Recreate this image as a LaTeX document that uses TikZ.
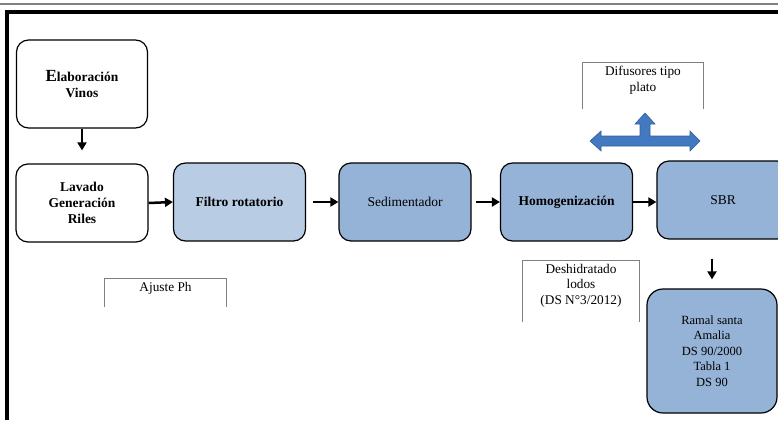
\documentclass[tikz,border=0pt]{standalone}
\usepackage{fontspec}
\setmainfont{Liberation Serif}
\usetikzlibrary{arrows.meta}
\definecolor{paleblue}{RGB}{184,204,228}
\definecolor{midblue}{RGB}{149,179,215}
\definecolor{arrowblue}{RGB}{66,121,192}
\tikzset{
  stage/.style      = {shape=rectangle, rounded corners=12pt,
                       draw, line width=1.2pt, fill=white,
                       minimum width=132pt, minimum height=78pt,
                       align=center, font=\fontsize{13.5}{16}\selectfont},
  boldstage/.style  = {stage, font=\fontsize{13.5}{16}\selectfont\bfseries},
  lightstage/.style = {boldstage, fill=paleblue},
  darkstage/.style  = {stage, fill=midblue},
  note/.style       = {anchor=north, align=center, inner xsep=2pt,
                       inner ysep=4pt, font=\fontsize{13.3}{15.5}\selectfont},
  bracket/.style    = {draw=gray, line width=1pt},
  flow/.style       = {-{Triangle[length=8pt,width=9pt]}, line width=2.5pt}
}
\newcommand{\legs}[2]{([yshift=-#2]#1.south west) -- (#1.north west)
  -- (#1.north east) -- ([yshift=-#2]#1.south east)}

\begin{document}
\begin{tikzpicture}[x=1pt, y=-1pt]
  \useasboundingbox (0,0) rectangle (778,420);
  \clip (0,0) rectangle (778,420);
  \draw[gray, line width=2.5pt] (0,4) -- (778,4);
  \draw[line width=3.5pt] (7,420) -- (7,12) -- (778,12);

  \node[boldstage, minimum width=131pt, minimum height=88pt] (vinos) at (82,84)
    {{\fontsize{17}{17}\selectfont E}laboración\\Vinos};
  \node[boldstage]  (lavado) at (82,203)    {Lavado\\Generación\\Riles};
  \node[lightstage] (filtro) at (239.5,202) {Filtro rotatorio};
  \node[darkstage]  (sedim)  at (405,202)   {Sedimentador};
  \node[darkstage, font=\fontsize{13.5}{16}\selectfont\bfseries]
                    (homog)  at (566.5,202) {Homogenización};
  \node[darkstage]  (sbr)    at (723,200)   {SBR};
  \node[darkstage, minimum width=130pt, minimum height=124pt,
        rounded corners=16pt, font=\fontsize{12.5}{15.5}\selectfont] (ramal) at (712,351)
    {Ramal santa\\Amalia\\DS 90/2000\\Tabla 1\\DS 90};

  \node[note, minimum width=120pt] (difusores) at (643,62)  {Difusores tipo\\plato};
  \node[note, minimum width=121pt] (ajuste)    at (165.5,278) {Ajuste Ph};
  \node[note, minimum width=116pt] (lodos)     at (581,260) {Deshidratado\\lodos\\(DS N°3/2012)};
  \draw[bracket] \legs{difusores}{11pt};
  \draw[bracket] \legs{ajuste}{9pt};
  \draw[bracket] \legs{lodos}{11pt};

  \draw[flow, shorten >=13pt] (vinos.south) -- (vinos.south |- lavado.north);
  \draw[flow] (lavado.east) -- (filtro.west);
  \draw[flow, shorten <=7pt] (filtro.east) -- (sedim.west);
  \draw[flow, shorten <=4pt] (sedim.east) -- (homog.west);
  \draw[flow] (homog.east) -- (homog.east -| sbr.west);
  \draw[flow, shorten <=19pt, shorten >=9pt] (sbr.south -| ramal.north) -- (ramal.north);

  \filldraw[fill=arrowblue, draw=arrowblue!80!black, line width=0.6pt]
    (590,141) -- (601,131) -- (601,136) -- (640,136) -- (640,124)
    -- (635,124) -- (645,113) -- (655,124) -- (650,124) -- (650,136)
    -- (690,136) -- (690,131) -- (700,141) -- (690,151) -- (690,146)
    -- (601,146) -- (601,151) -- cycle;
\end{tikzpicture}
\end{document}
